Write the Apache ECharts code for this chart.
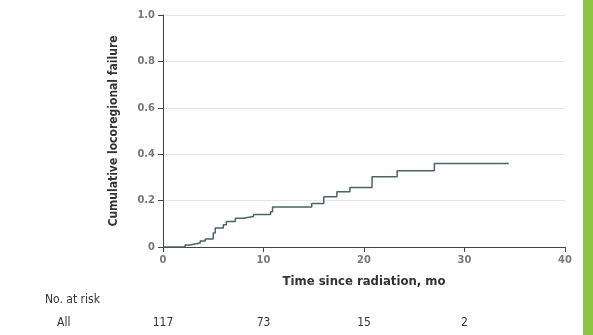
<!DOCTYPE html>
<html>
<head>
<meta charset="utf-8">
<script src="https://cdn.jsdelivr.net/npm/echarts@6/dist/echarts.min.js"></script>
<style>
  html, body { margin: 0; padding: 0; background: #fff; }
  #chart { width: 593px; height: 335px; }
</style>
</head>
<body>
<div id="chart"></div>
<script>
// Cumulative failure steps (time in months, value after the step)
const times = [0, 2.2, 2.7, 3.7, 4.2, 5.0, 5.2, 6.0, 6.3, 7.2, 8.0, 9.0, 10.7, 10.9, 14.8, 16.0, 17.3, 18.6, 20.8, 23.3, 27.0, 34.4];
const failure = [0, 0.009, 0.017, 0.026, 0.035, 0.06, 0.082, 0.096, 0.11, 0.124, 0.131, 0.14, 0.152, 0.172, 0.188, 0.217, 0.238, 0.256, 0.303, 0.329, 0.36, 0.36];
const riskTimes = [0, 10, 20, 30];
const atRisk = ['117', '73', '15', '2'];

const FONT = '"DejaVu Sans Condensed", "Liberation Sans", sans-serif';
const chart = echarts.init(document.getElementById('chart'), null, { renderer: 'canvas' });

const riskLabel = (v) => {
  const i = riskTimes.indexOf(v);
  return i >= 0 ? atRisk[i] : '';
};

chart.setOption({
  animation: false,
  textStyle: { fontFamily: FONT },
  grid: { left: 163, right: 28, top: 15, bottom: 88 },
  xAxis: [
    {
      type: 'value', min: 0, max: 40, interval: 10,
      name: 'Time since radiation, mo', nameLocation: 'middle', nameGap: 28,
      nameTextStyle: { color: '#333', fontSize: 13, fontFamily: FONT, fontWeight: 'bold' },
      axisLine: { lineStyle: { color: '#444', width: 1 } },
      axisTick: { length: 5, lineStyle: { color: '#444' } },
      axisLabel: { color: '#777', fontSize: 11, fontFamily: FONT, fontWeight: 'bold', margin: 8 },
      splitLine: { show: false }
    },
    {
      type: 'value', min: 0, max: 40, interval: 10, position: 'bottom', offset: 70,
      axisLine: { show: false }, axisTick: { show: false }, splitLine: { show: false },
      axisLabel: { color: '#333', fontSize: 12, fontFamily: FONT, margin: 0, formatter: riskLabel }
    }
  ],
  yAxis: {
    type: 'value', min: 0, max: 1, interval: 0.2,
    name: 'Cumulative locoregional failure', nameLocation: 'middle', nameGap: 43, nameRotate: 90,
    nameTextStyle: { color: '#333', fontSize: 12, fontFamily: FONT, fontWeight: 'bold' },
    axisLine: { show: true, lineStyle: { color: '#444', width: 1 } },
    axisTick: { show: true, length: 5, lineStyle: { color: '#444' } },
    axisLabel: { color: '#777', fontSize: 11, fontFamily: FONT, fontWeight: 'bold', margin: 8,
      formatter: (v) => v === 0 ? '0' : v.toFixed(1) },
    splitLine: { show: true, lineStyle: { color: '#e6e6e6', width: 1 } }
  },
  series: [{
    type: 'line',
    step: 'end',
    data: times.map((t, i) => [t, failure[i]]),
    showSymbol: false,
    lineStyle: { color: '#46666b', width: 1.5 }
  }],
  graphic: [
    { type: 'rect', left: 583, top: 0, shape: { width: 10, height: 335 }, style: { fill: '#8dc53f' } },
    { type: 'text', left: 45, top: 294, style: { text: 'No. at risk', fill: '#333', font: '12px "DejaVu Sans Condensed", sans-serif' } },
    { type: 'text', left: 57, top: 317, style: { text: 'All', fill: '#333', font: '12px "DejaVu Sans Condensed", sans-serif' } }
  ]
});
</script>
</body>
</html>
